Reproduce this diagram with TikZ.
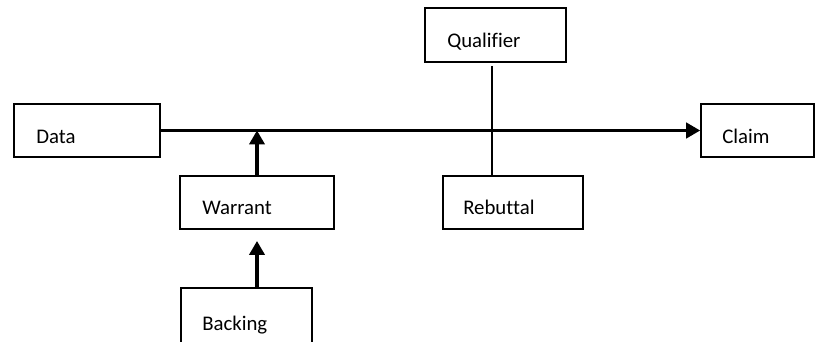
\documentclass[tikz,border=0pt]{standalone}
\usepackage{fontspec}
\setmainfont{Carlito}[Ligatures=NoCommon]
\usepackage{tikz}
\usetikzlibrary{arrows.meta, positioning, calc}

\begin{document}
\begin{tikzpicture}[
    x=0.75pt, y=-0.75pt,
    every node/.style={font=\fontsize{15.6}{18}\selectfont},
    box/.style={draw, line width=1.2pt, inner sep=0pt},
    word/.style={anchor=base west, inner sep=0pt},
    link/.style={line width=2.3pt, -{Triangle[length=10.5pt, width=11.5pt]}}
]

% Frame
\useasboundingbox (0,0) rectangle (815,342);
\clip (0,0) rectangle (815,342);

% Boxes
\node[box, minimum width=109.5pt, minimum height=39.75pt] (data) at (87,130.5) {};
\node[box, minimum width=84.75pt, minimum height=39.75pt] (claim) at (757.5,130.5) {};
\node[box, minimum width=105.75pt, minimum height=40.5pt] (qualifier) at (495.5,35) {};
\node[box, minimum width=105pt, minimum height=39.75pt] (rebuttal) at (513,202.5) {};
\node[box, minimum width=115.5pt, minimum height=39.75pt] (warrant) at (257,202.5) {};
\node[box, minimum width=98.25pt, minimum height=54pt] (backing) at (246.5,324) {};

% Labels
\node[word] (datalbl) at (36,144) {Data};
\node[word] (claimlbl) at (722,144) {Claim};
\node[word] (qualifierlbl) at (447,48) {Qualifier};
\node[word] (rebuttallbl) at (463,215) {Rebuttal};
\node[word] (warrantlbl) at (202,215) {Warrant};
\node[word] (backinglbl) at (202,330) {Backing};

% Connectors
\coordinate (wfoot) at (257,241);
\coordinate (qfoot) at (492,66);
\draw[link] (data.east) -- (claim.west);
\draw[link] (warrant.north) -- (warrant.north |- data.east);
\draw[link] (backing.north -| wfoot) -- (wfoot);
\draw[line width=1.6pt] (qfoot) -- (qfoot |- rebuttal.north);

\end{tikzpicture}
\end{document}
